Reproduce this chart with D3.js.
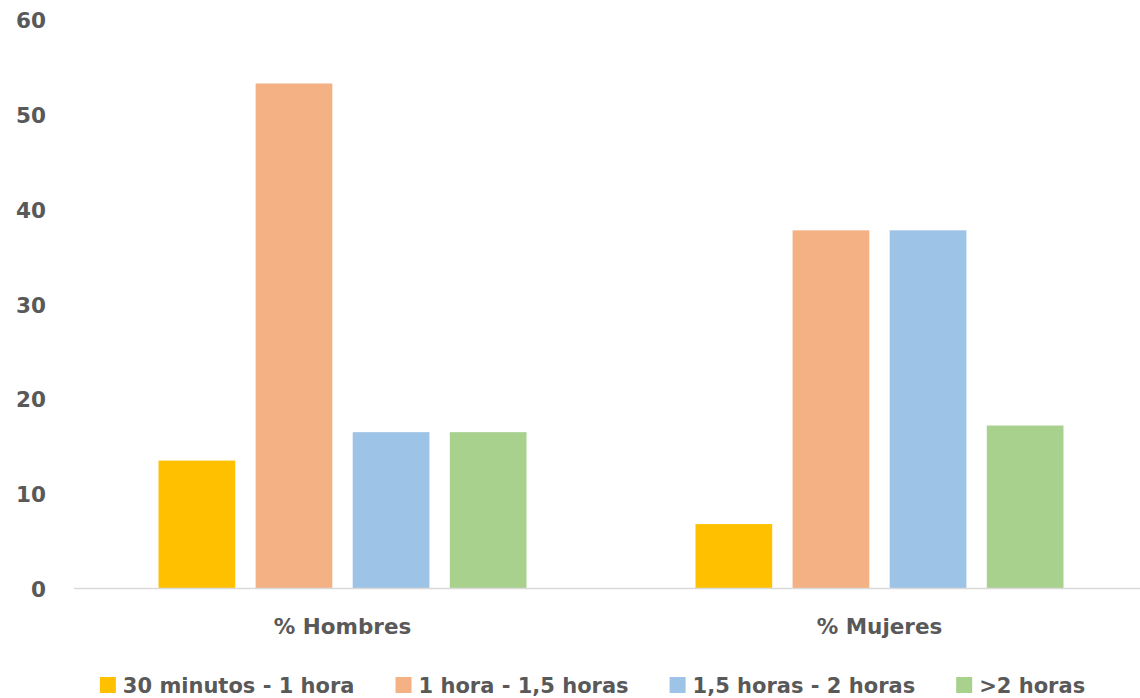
<!DOCTYPE html>
<html>
<head>
<meta charset="utf-8">
<script src="https://cdn.jsdelivr.net/npm/d3@7"></script>
<style>
  html, body { margin: 0; padding: 0; background: #fff; }
  svg text { font-family: "DejaVu Sans", sans-serif; font-weight: bold; fill: #595959; }
</style>
</head>
<body>
<svg id="chart" width="1140" height="698"></svg>
<script>
// Grupos y series
const categories = ["% Hombres", "% Mujeres"];
const seriesNames = ["30 minutos - 1 hora", "1 hora - 1,5 horas", "1,5 horas - 2 horas", ">2 horas"];
const seriesColors = ["#FFC000", "#F4B183", "#9DC3E6", "#A9D18E"];
// Porcentaje por grupo, en el orden de seriesNames
const hombres = [13.5, 53.3, 16.5, 16.5];
const mujeres = [6.8, 37.8, 37.8, 17.2];
const yTicks = [0, 10, 20, 30, 40, 50, 60];

const values = [hombres, mujeres];
const svg = d3.select("#chart");

const x0 = d3.scaleBand().domain(categories).range([74, 1148])
  .paddingInner(0.3147).paddingOuter(0.1574);
const x1 = d3.scaleBand().domain(seriesNames).range([0, x0.bandwidth()])
  .paddingInner(0.21).paddingOuter(0);
const y = d3.scaleLinear().domain([0, 60]).range([588.5, 20]);

// Barras
const groups = svg.append("g").selectAll("g")
  .data(categories).join("g")
  .attr("transform", d => `translate(${x0(d)},0)`);

groups.selectAll("rect")
  .data((d, i) => seriesNames.map((s, j) => ({ s, v: values[i][j], c: seriesColors[j] })))
  .join("rect")
  .attr("x", d => x1(d.s))
  .attr("width", x1.bandwidth())
  .attr("y", d => y(d.v))
  .attr("height", d => y(0) - y(d.v))
  .attr("fill", d => d.c);

// Eje vertical (solo etiquetas)
const yAxis = svg.append("g")
  .attr("transform", "translate(46,0)")
  .call(d3.axisLeft(y).tickValues(yTicks).tickSize(0).tickPadding(0));
yAxis.select(".domain").remove();
yAxis.selectAll("text").attr("font-size", 21.5).attr("dy", "0.36em");

// Línea base
svg.append("line")
  .attr("x1", 74).attr("x2", 1140)
  .attr("y1", y(0)).attr("y2", y(0))
  .attr("stroke", "#D9D9D9").attr("stroke-width", 1.5);

// Etiquetas de categoría
const xAxis = svg.append("g")
  .attr("transform", `translate(0,${y(0)})`)
  .call(d3.axisBottom(x0).tickSize(0).tickPadding(0));
xAxis.select(".domain").remove();
xAxis.selectAll("text").attr("font-size", 21.5).attr("y", 38).attr("dy", "0.36em");

// Leyenda
const legend = svg.append("g");
const items = legend.selectAll("g").data(seriesNames).join("g");
items.append("rect").attr("width", 16).attr("height", 16)
  .attr("y", 677).attr("fill", (d, i) => seriesColors[i]);
items.append("text").text(d => d)
  .attr("x", 23).attr("y", 685).attr("dy", "0.36em").attr("font-size", 21);

let widths = [];
items.each(function () { widths.push(this.querySelector("text").getComputedTextLength()); });
const gap = 41;
const total = d3.sum(widths, w => w + 23) + gap * (widths.length - 1);
let cx = 592.5 - total / 2;
items.attr("transform", (d, i) => {
  const t = `translate(${cx},0)`;
  cx += widths[i] + 23 + gap;
  return t;
});
</script>
</body>
</html>
